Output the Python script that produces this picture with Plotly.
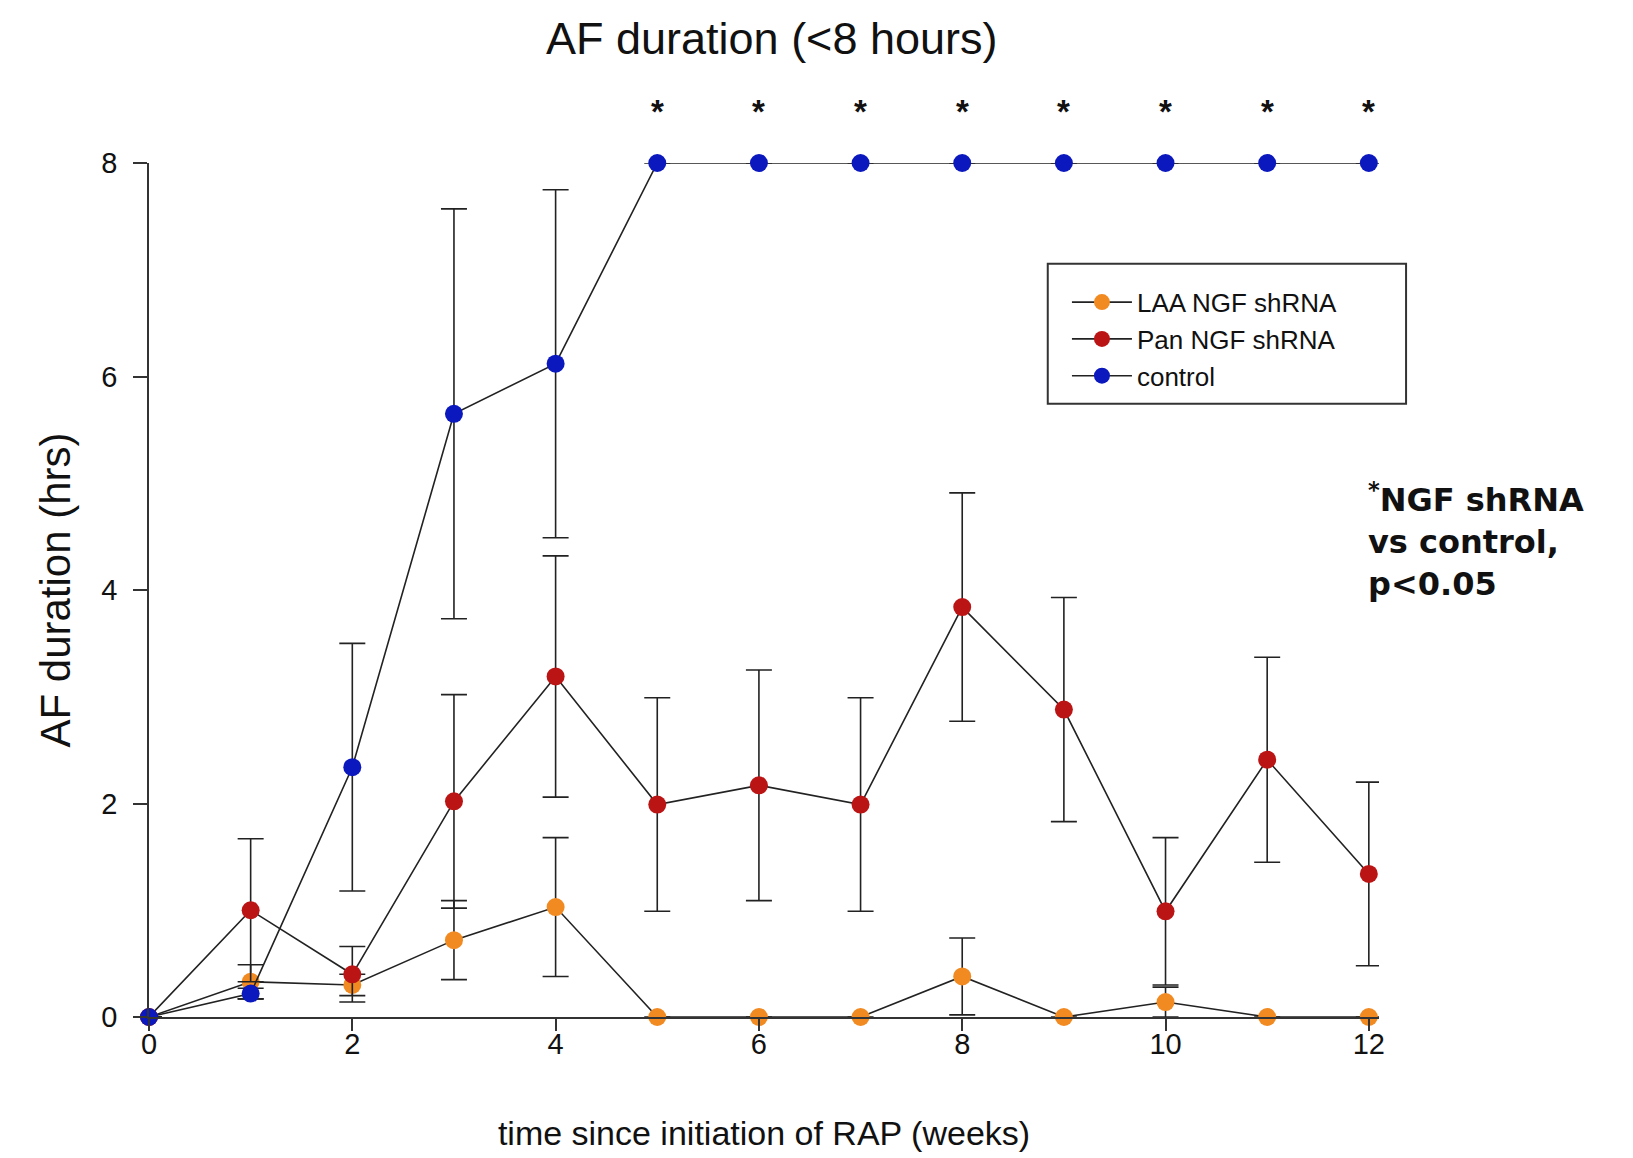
import plotly.graph_objects as go

# ---- data ----
weeks = [0, 1, 2, 3, 4, 5, 6, 7, 8, 9, 10, 11, 12]

laa_ngf = [0, 0.33, 0.30, 0.72, 1.03, 0, 0, 0, 0.38, 0, 0.14, 0, 0]
laa_ngf_err = [0, 0.16, 0.10, 0.37, 0.65, 0, 0, 0, 0.36, 0, 0.14, 0, 0]

pan_ngf = [0, 1.00, 0.40, 2.02, 3.19, 1.99, 2.17, 1.99, 3.84, 2.88, 0.99, 2.41, 1.34]
pan_ngf_err = [0, 0.67, 0.26, 1.00, 1.13, 1.00, 1.08, 1.00, 1.07, 1.05, 0.69, 0.96, 0.86]

control = [0, 0.22, 2.34, 5.65, 6.12, 8, 8, 8, 8, 8, 8, 8, 8]
control_err = [0, 0.05, 1.16, 1.92, 1.63, 0, 0, 0, 0, 0, 0, 0, 0]

# weeks where NGF shRNA vs control is significant (marked with *)
sig_weeks = [5, 6, 7, 8, 9, 10, 11, 12]

x_ticks = [0, 2, 4, 6, 8, 10, 12]
y_ticks = [0, 2, 4, 6, 8]

series_names = ["LAA NGF shRNA", "Pan NGF shRNA", "control"]
series_colors = ["#F28A22", "#BB1414", "#0A18BE"]

FONT = "Liberation Sans, Arial, Helvetica, sans-serif"
BOLD_FONT = "DejaVu Sans, Arial, sans-serif"
LINE_COL = "#222222"

fig = go.Figure()
for name, vals, errs, col in zip(series_names,
                                 [laa_ngf, pan_ngf, control],
                                 [laa_ngf_err, pan_ngf_err, control_err],
                                 series_colors):
    fig.add_trace(go.Scatter(
        x=weeks, y=vals, name=name, mode="lines+markers",
        line=dict(color=LINE_COL, width=1.6),
        marker=dict(color=col, size=18, line=dict(width=0)),
        error_y=dict(type="data", array=errs, visible=True,
                     color=LINE_COL, thickness=1.6, width=13),
        cliponaxis=False,
    ))

# significance stars above the plateau (x in data units, y in paper units)
for w in sig_weeks:
    fig.add_annotation(x=w, xref="x", y=1.060, yref="paper", text="<b>*</b>",
                       showarrow=False, xanchor="center", yanchor="middle",
                       font=dict(family=FONT, size=33, color="#111"))

# note on the right
fig.add_annotation(
    x=0.9894, y=0.559, xref="paper", yref="paper",
    text="<b><sup>*</sup>NGF shRNA<br>vs control,<br>p&lt;0.05</b>",
    showarrow=False, align="left", xanchor="left", yanchor="middle",
    font=dict(family=BOLD_FONT, size=32, color="#111"),
)

# legend frame
fig.add_shape(type="rect", xref="paper", yref="paper",
              x0=0.7307, x1=1.022, y0=0.718, y1=0.882,
              line=dict(color="#333", width=2), fillcolor="rgba(0,0,0,0)",
              layer="above")

fig.update_layout(
    width=1625, height=1150,
    template="none",
    paper_bgcolor="white", plot_bgcolor="white",
    margin=dict(l=141, r=254, t=155, b=141),
    font=dict(family=FONT, color="#111"),
    title=dict(text="AF duration (&lt;8 hours)", x=0.470, xanchor="center",
               y=0.974, yanchor="middle", yref="container",
               font=dict(family=FONT, size=45, color="#111")),
    showlegend=True,
    legend=dict(x=0.7463, y=0.8645, xanchor="left", yanchor="top",
                bgcolor="rgba(0,0,0,0)", borderwidth=0,
                font=dict(family=FONT, size=26, color="#111"),
                itemwidth=60, tracegroupgap=0),
    xaxis=dict(range=[0, 12.1], tickvals=x_ticks, ticks="outside", ticklen=12,
               tickwidth=1.6, tickcolor="#333", showline=True, linecolor="#333",
               linewidth=1.6, showgrid=False, zeroline=False, automargin=False,
               ticklabelstandoff=-12,
               tickfont=dict(family=FONT, size=29, color="#111"),
               title=dict(text="time since initiation of RAP (weeks)", standoff=63,
                          font=dict(family=FONT, size=34, color="#111"))),
    yaxis=dict(range=[0, 8], tickvals=y_ticks, ticks="outside", ticklen=14,
               tickwidth=1.6, tickcolor="#333", showline=True, linecolor="#333",
               linewidth=1.6, showgrid=False, zeroline=False, automargin=False,
               ticklabelstandoff=10,
               tickfont=dict(family=FONT, size=29, color="#111"),
               title=dict(text="AF duration (hrs)", standoff=18,
                          font=dict(family=FONT, size=42, color="#111"))),
)

fig.write_html("out.html")
